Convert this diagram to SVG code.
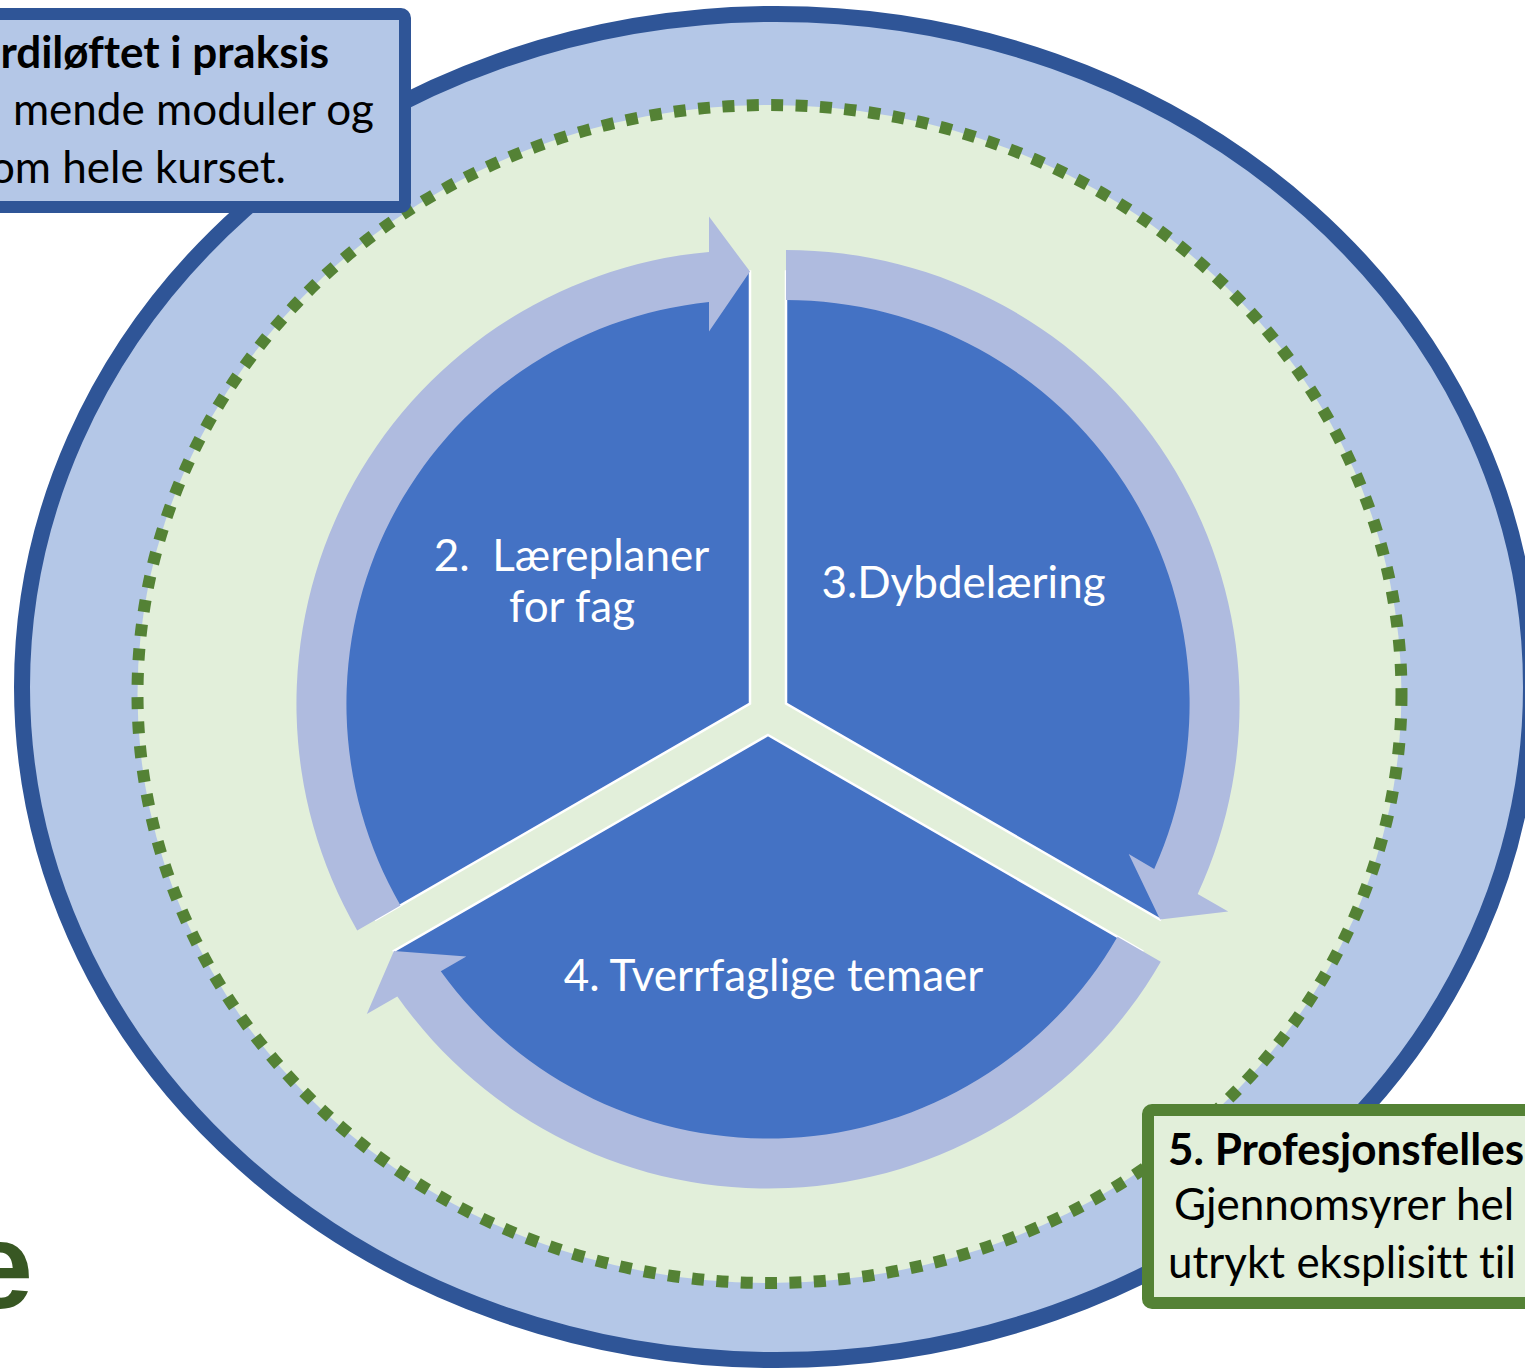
<svg xmlns="http://www.w3.org/2000/svg" width="1525" height="1369" viewBox="0 0 1525 1369">
  <style>
    .wedge { fill: #4472C4; stroke: #FFFFFF; stroke-width: 2.5; stroke-linejoin: miter; }
    .band { fill: #AFBBDF; stroke: none; }
    .seglbl { font-family: Lato, "Liberation Sans", sans-serif; font-size: 44px; fill: #FFFFFF; font-variant-ligatures: none; }
    .boxtxt { font-family: Lato, "Liberation Sans", sans-serif; font-size: 44px; fill: #000000; font-variant-ligatures: none; }
    .bold { font-weight: bold; }
  </style>
  <rect x="0" y="0" width="1525" height="1369" fill="#FFFFFF"/>

  <g id="outer-ring">
    <ellipse cx="776.5" cy="687" rx="754.5" ry="673" fill="#B4C7E7" stroke="#2F5597" stroke-width="16"/>
  </g>

  <g id="inner-ring">
    <ellipse cx="769.5" cy="694" rx="632" ry="589" fill="#E2EFDA" stroke="#548235" stroke-width="12" stroke-dasharray="12 12.4"/>
  </g>

  <g id="seg-2">
    <path class="wedge" d="M750,703.6 L375.9,919.6 A432,432 0 0 1 750,271.6 Z"/>
    <text class="seglbl" x="571.5" y="571" text-anchor="middle" style="white-space:pre">2.  Læreplaner</text>
    <text class="seglbl" x="572" y="622" text-anchor="middle">for fag</text>
  </g>

  <g id="seg-3">
    <path class="wedge" d="M786,703.6 L786,271.6 A432,432 0 0 1 1160.1,919.6 Z"/>
    <text class="seglbl" x="963.5" y="598" text-anchor="middle">3.Dybdelæring</text>
  </g>

  <g id="seg-4">
    <path class="wedge" d="M768,735 L1142.1,951 A432,432 0 0 1 393.9,951 Z"/>
    <text class="seglbl" x="773.5" y="991" text-anchor="middle">4. Tverrfaglige temaer</text>
  </g>

  <g id="connectors">
    <path class="band" d="M357.2,930.4 A453.6,453.6 0 0 1 709,251.9 L709,216.6 L750,271.6 L709,331.6 L709,302.1 A403.6,403.6 0 0 0 400.5,905.4 Z"/>
    <path class="band" d="M786,250 A453.6,453.6 0 0 1 1197.7,894 L1228.2,911.6 L1160.1,919.6 L1128.7,854.1 L1154.2,868.9 A403.6,403.6 0 0 0 786,300 Z"/>
    <path class="band" d="M1160.8,961.8 A453.6,453.6 0 0 1 397.3,996.4 L366.8,1014 L393.9,951 L466.3,956.5 L440.8,971.3 A403.6,403.6 0 0 0 1117.5,936.8 Z"/>
  </g>

  <g id="box-1">
    <rect x="-30" y="14" width="435" height="193" rx="4" fill="#B4C7E7" stroke="#2F5597" stroke-width="12"/>
    <text class="boxtxt bold" x="329" y="68" text-anchor="end">rdiløftet i praksis</text>
    <text class="boxtxt" x="374" y="125" text-anchor="end">mende moduler og</text>
    <text class="boxtxt" x="286" y="183" text-anchor="end">om hele kurset.</text>
  </g>

  <g id="box-5">
    <rect x="1148" y="1110" width="420" height="193" rx="4" fill="#E2EFDA" stroke="#548235" stroke-width="12"/>
    <text class="boxtxt bold" x="1168" y="1165">5. Profesjonsfelles</text>
    <text class="boxtxt" x="1174" y="1220">Gjennomsyrer hel</text>
    <text class="boxtxt" x="1168" y="1278">utrykt eksplisitt til</text>
  </g>

  <g id="title-fragment">
    <text x="33" y="1308" text-anchor="end" font-family="'Liberation Sans', sans-serif" font-weight="bold" font-size="122" fill="#385723">e</text>
  </g>
</svg>
